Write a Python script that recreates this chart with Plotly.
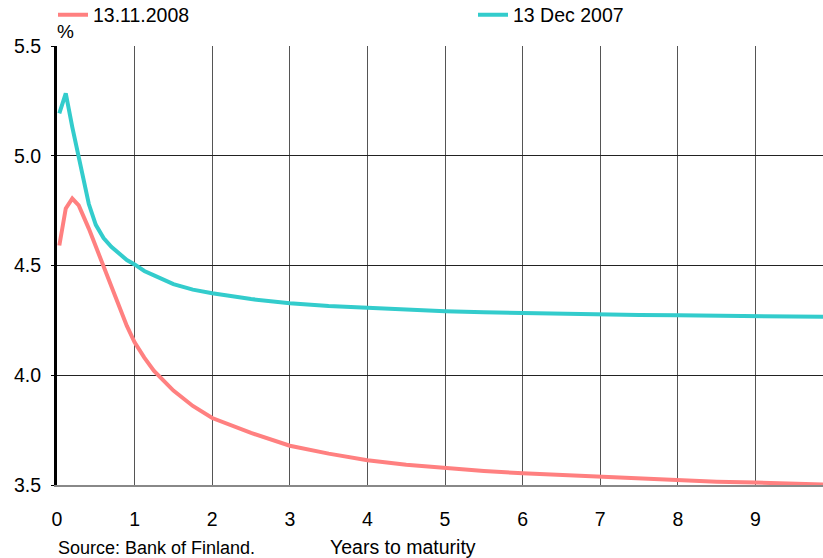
import plotly.graph_objects as go

maturity = [0.03, 0.113, 0.197, 0.28, 0.41, 0.5, 0.6, 0.7, 0.8, 0.9, 1.0, 1.125, 1.25,
            1.5, 1.75, 2.0, 2.5, 3.0, 3.5, 4.0, 4.5, 5.0, 5.5, 6.0, 6.5, 7.0, 7.5,
            8.0, 8.5, 9.0, 9.5, 9.9]
rates_2008 = [4.591, 4.76, 4.805, 4.774, 4.668, 4.585, 4.49, 4.40, 4.305, 4.225, 4.15,
              4.08, 4.02, 3.93, 3.86, 3.805, 3.737, 3.679, 3.643, 3.613, 3.592, 3.576,
              3.564, 3.553, 3.545, 3.537, 3.528, 3.520, 3.515, 3.511, 3.506, 3.502]
rates_2007 = [5.193, 5.284, 5.13, 5.0, 4.78, 4.685, 4.625, 4.585, 4.555, 4.525, 4.505,
              4.475, 4.455, 4.415, 4.39, 4.374, 4.347, 4.328, 4.316, 4.307, 4.299, 4.292,
              4.287, 4.283, 4.28, 4.278, 4.275, 4.273, 4.271, 4.27, 4.268, 4.266]
series_names = ["13.11.2008", "13 Dec 2007"]
x_ticks = [0, 1, 2, 3, 4, 5, 6, 7, 8, 9]
y_ticks = [3.5, 4.0, 4.5, 5.0, 5.5]

FONT = "Liberation Sans, Arial, sans-serif"
W, H = 823, 558

fig = go.Figure()
fig.add_trace(go.Scatter(x=maturity, y=rates_2008, mode="lines", name=series_names[0],
                         line=dict(color="#FF8080", width=4), legend="legend"))
fig.add_trace(go.Scatter(x=maturity, y=rates_2007, mode="lines", name=series_names[1],
                         line=dict(color="#33CCCC", width=4), legend="legend2"))

legend_common = dict(orientation="h", xanchor="left", yanchor="middle",
                     xref="container", yref="container",
                     font=dict(family=FONT, size=19.5, color="black"),
                     bgcolor="rgba(0,0,0,0)", borderwidth=0)

fig.update_layout(
    width=W, height=H,
    margin=dict(l=57, r=0, t=46, b=73, autoexpand=False),
    paper_bgcolor="white", plot_bgcolor="white",
    font=dict(family=FONT, size=19.5, color="black"),
    showlegend=True,
    legend=dict(x=53 / W, y=1 - 15 / H, **legend_common),
    legend2=dict(x=473 / W, y=1 - 15 / H, **legend_common),
    xaxis=dict(range=[0, 9.87], tickvals=x_ticks, ticktext=[str(v) for v in x_ticks],
               showgrid=True, gridcolor="#555555", gridwidth=1, zeroline=False,
               showline=True, linecolor="#888888", linewidth=2, ticks="",
               ticklabelstandoff=16, tickfont=dict(family=FONT, size=19.5)),
    yaxis=dict(range=[3.5, 5.5], tickvals=y_ticks, ticktext=[f"{v:.1f}" for v in y_ticks],
               showgrid=True, gridcolor="#222222", gridwidth=1, zeroline=False,
               showline=True, linecolor="black", linewidth=3,
               ticks="outside", ticklen=3, tickcolor="black",
               ticklabelstandoff=6, tickfont=dict(family=FONT, size=19.5)),
    annotations=[
        dict(text="%", xref="paper", yref="paper", x=-0.0026, y=1.034,
             xanchor="left", yanchor="middle", showarrow=False,
             font=dict(family=FONT, size=19)),
        dict(text="Source: Bank of Finland.", xref="paper", yref="paper", x=-0.0013, y=-0.143,
             xanchor="left", yanchor="middle", showarrow=False,
             font=dict(family=FONT, size=18)),
        dict(text="Years to maturity", xref="paper", yref="paper", x=0.4517, y=-0.141,
             xanchor="center", yanchor="middle", showarrow=False,
             font=dict(family=FONT, size=19.5)),
    ],
)

# remove the default page margin so the 823x558 figure fills the window exactly
fig.write_html("out.html", config={"displayModeBar": False},
               post_script="document.body.style.margin='0';document.body.style.overflow='hidden';")
